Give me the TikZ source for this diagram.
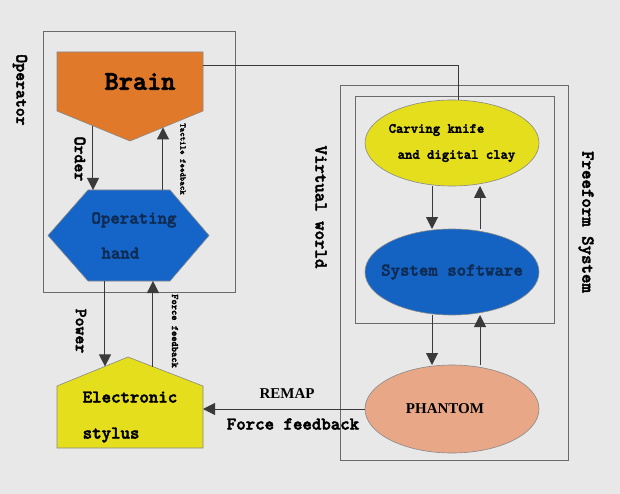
\documentclass[tikz,border=0pt]{standalone}
\usepackage{fontspec}
\setmainfont{lmmonolt10}[Extension=.otf,UprightFont=*-regular,BoldFont=*-bold,BoldFeatures={FakeBold=2.5}]
\newfontfamily\timesfont{Liberation Serif}
\usetikzlibrary{arrows.meta,positioning,calc,shapes.geometric,backgrounds}
\definecolor{paper}{HTML}{E8E8E8}
\definecolor{edge}{HTML}{6A6A6A}
\definecolor{wire}{HTML}{3A3A3A}
\definecolor{brainorange}{HTML}{E07A2A}
\definecolor{handblue}{HTML}{1565C8}
\definecolor{stylusyellow}{HTML}{E4DE1C}
\definecolor{softblue}{HTML}{1463C2}
\definecolor{phantompink}{HTML}{E8A888}
\definecolor{navy}{HTML}{0F2C55}
\newcommand{\fsz}[2]{\fontsize{#1}{#2}\selectfont\bfseries}

\begin{document}
\begin{tikzpicture}[x=1pt,y=-1pt,
  frame/.style={draw=edge,line width=1pt},
  body/.style={inner sep=0pt,outer sep=0pt,align=left},
  outline/.style={draw=edge!80,line width=0.6pt},
  blob/.style={ellipse,draw=edge!80,line width=0.6pt,minimum width=174pt,minimum height=86pt,inner sep=0pt,outer sep=0pt},
  ar/.style={-{Triangle[length=12pt,width=12pt]},draw=wire,line width=1pt},
  ln/.style={draw=wire,line width=0.9pt},
  vlbl/.style={rotate=-90,inner sep=0pt}]

\begin{scope}[on background layer]
  \fill[paper] (0,0) rectangle (620,494);
\end{scope}
\useasboundingbox (0,0) rectangle (620,494);

% operator side
\draw[frame] (43,32) rectangle (235,292);
\node[vlbl,font=\fsz{17}{17}] (operator) at (20,90) {Operator};

\node[body,minimum width=146pt,minimum height=59pt,font=\fsz{27}{27}] (brain) at (130,81.5) {\hspace*{20pt}Brain};
\coordinate (brain tip) at ($(brain.south)+(0,30)$);
\node[body,minimum width=161pt,minimum height=91pt,font=\fsz{18}{35},text=navy] (hand) at (128.5,235.5)
  {\hspace*{11pt}Operating\\\hspace*{21pt}hand};
\node[body,minimum width=146pt,minimum height=62pt,font=\fsz{18}{36}] (stylus) at (130,417) {Electronic\\stylus};
\coordinate (roof) at ($(stylus.north)+(-2,-29)$);

\begin{scope}[on background layer]
  \filldraw[outline,fill=brainorange] (brain.north west) -- (brain.north east) -- (brain.south east)
    -- (brain tip) -- (brain.south west) -- cycle;
  \filldraw[outline,fill=handblue] ($(hand.north west)+(40,0)$) -- ($(hand.north east)+(-39,0)$) -- (hand.east)
    -- ($(hand.south east)+(-39,0)$) -- ($(hand.south west)+(40,0)$) -- (hand.west) -- cycle;
  \filldraw[outline,fill=stylusyellow] (stylus.south west) -- (stylus.north west) -- (roof)
    -- (stylus.north east) -- (stylus.south east) -- cycle;
\end{scope}

\coordinate (order out) at ($(brain.south west)!0.493!(brain tip)$);
\coordinate (touch in) at ($(brain.south east)!0.548!(brain tip)$);
\coordinate (power in) at ($(stylus.north west)!0.676!(roof)$);
\coordinate (force out) at ($(stylus.north east)!0.667!(roof)$);

\draw[ar] (order out) -- (order out |- hand.north);
\draw[ar] (touch in |- hand.north) -- (touch in);
\draw[ar] (power in |- hand.south) -- (power in);
\draw[ar] (force out) -- (force out |- hand.south);

\node[vlbl,font=\fsz{17}{17}] (order) at (80,159) {Order};
\node[vlbl,font=\fsz{8.5}{8.5}] (touch) at (183,159) {Tactile feedback};
\node[vlbl,font=\fsz{17}{17}] (power) at (81,331) {Power};
\node[vlbl,font=\fsz{10}{10}] (forceup) at (175,331) {Force feedback};

% freeform side
\draw[frame] (340,86) rectangle (568,460);
\draw[frame] (355,97) rectangle (554,323);
\node[vlbl,font=\fsz{18}{18}] (virtual) at (321,207) {Virtual world};
\node[vlbl,font=\fsz{18}{18}] (freeform) at (586,222) {Freeform System};

\node[blob,fill=stylusyellow,
  label={[font=\fsz{14}{26},align=left]center:{Carving knife\\\hspace*{9pt}and digital clay}}] (knife) at (452,143) {};
\node[blob,fill=softblue,
  label={[font=\fsz{18}{18},text=navy]center:System software}] (soft) at (452,272) {};
\node[blob,fill=phantompink,minimum height=88pt,
  label={[font=\timesfont\fsz{15}{15},xshift=-7pt]center:PHANTOM}] (phantom) at (452,409) {};

\draw[ar] ([xshift=-20pt]knife.south) -- ([xshift=-20pt]soft.north);
\draw[ar] ([xshift=28pt]soft.north) -- ([xshift=28pt]knife.south);
\draw[ar] ([xshift=-20pt]soft.south) -- ([xshift=-20pt]phantom.north);
\draw[ar] ([xshift=28pt]phantom.north) -- ([xshift=28pt]soft.south);

% links between the two sides
\draw[ln] ($(brain.north east)+(0,13)$) -| ([xshift=6pt]knife.north);
\draw[ar] (phantom.west) -- (phantom.west -| stylus.east);
\node[font=\timesfont\fsz{15}{15}] (remap) at (287,394) {REMAP};
\node[font=\fsz{18}{18}] (forceback) at (293,424) {Force feedback};
\end{tikzpicture}
\end{document}
